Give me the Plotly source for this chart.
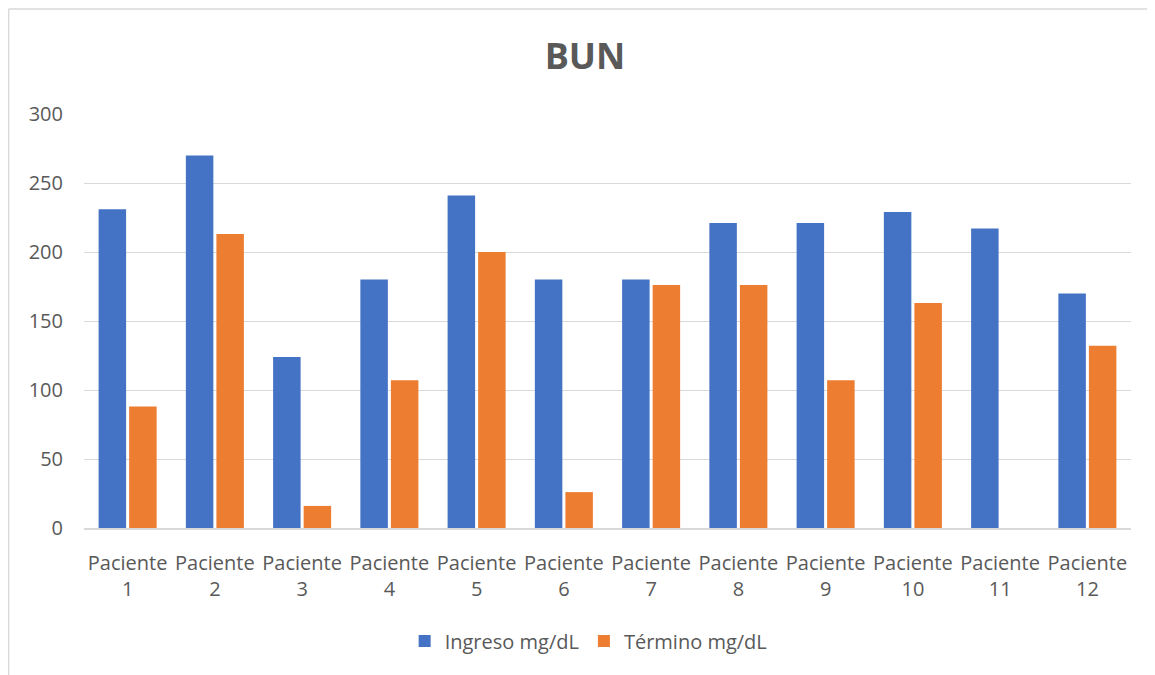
import plotly.graph_objects as go

categories = ["Paciente<br>1", "Paciente<br>2", "Paciente<br>3", "Paciente<br>4",
              "Paciente<br>5", "Paciente<br>6", "Paciente<br>7", "Paciente<br>8",
              "Paciente<br>9", "Paciente<br>10", "Paciente<br>11", "Paciente<br>12"]
ingreso = [231, 270, 124, 180, 241, 180, 180, 221, 221, 229, 217, 170]
termino = [88, 213, 16, 107, 200, 26, 176, 176, 107, 163, 0, 132]
series_names = ["Ingreso mg/dL", "Término mg/dL"]
y_ticks = [0, 50, 100, 150, 200, 250, 300]

FONT = "Open Sans, Liberation Sans, sans-serif"
TEXT = "#595959"

fig = go.Figure()
fig.add_trace(go.Bar(x=categories, y=ingreso, name=series_names[0],
                     marker=dict(color="#4472C4", line=dict(width=0))))
fig.add_trace(go.Bar(x=categories, y=termino, name=series_names[1],
                     marker=dict(color="#ED7D31", line=dict(width=0))))

W, H = 1147, 667
fig.update_layout(
    width=W, height=H,
    margin=dict(l=76, r=24, t=106, b=147),
    paper_bgcolor="white", plot_bgcolor="white",
    barmode="group", bargap=0.3, bargroupgap=0.1,
    title=dict(text="<b>BUN</b>", x=577 / W, xref="container", xanchor="center",
               y=1 - 48 / H, yref="container", yanchor="middle",
               font=dict(family=FONT, size=36, color=TEXT)),
    font=dict(family=FONT, size=20, color=TEXT),
    legend=dict(orientation="h", x=0.482, xanchor="center", y=-0.273, yanchor="middle",
                font=dict(family=FONT, size=20, color=TEXT),
                itemwidth=30, tracegroupgap=0, bgcolor="rgba(0,0,0,0)"),
    xaxis=dict(showgrid=False, showline=True, linecolor="#D9D9D9", linewidth=1.5,
               ticks="outside", ticklen=16, tickcolor="rgba(0,0,0,0)",
               tickfont=dict(family=FONT, size=20, color=TEXT), tickangle=0),
    yaxis=dict(range=[0, 300], tickvals=y_ticks, showgrid=True, gridcolor="#D9D9D9",
               gridwidth=1.2, zeroline=False, showline=False,
               ticks="outside", ticklen=16, tickcolor="rgba(0,0,0,0)",
               tickfont=dict(family=FONT, size=20, color=TEXT)),
    shapes=[
        dict(type="line", xref="paper", yref="paper", x0=-0.0720, x1=1.05,
             y0=1.2536, y1=1.2536, line=dict(color="#D9D9D9", width=1.5)),
        dict(type="line", xref="paper", yref="paper", x0=-0.0720, x1=-0.0720,
             y0=1.2536, y1=-0.36, line=dict(color="#D9D9D9", width=1.5)),
    ],
)

fig.write_html("out.html")
